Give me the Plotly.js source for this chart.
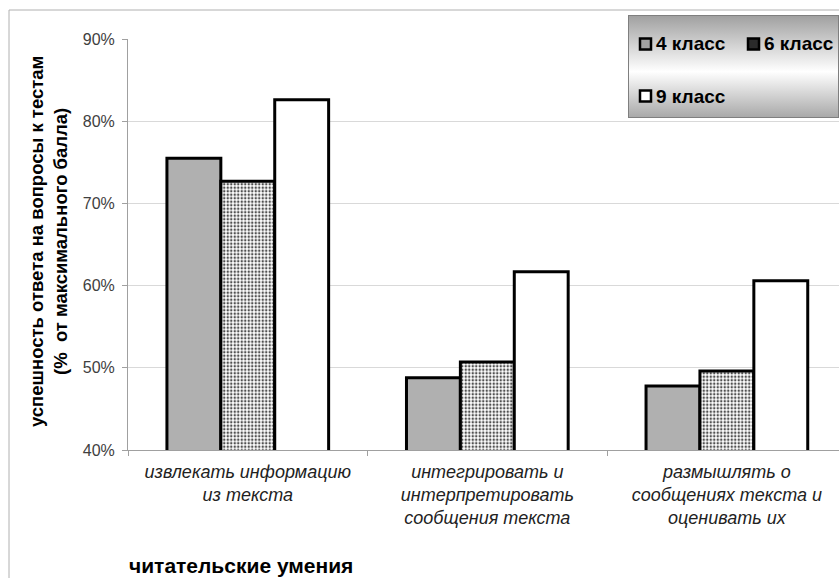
<!DOCTYPE html>
<html>
<head>
<meta charset="utf-8">
<script src="https://cdn.plot.ly/plotly-3.0.1.min.js"></script>
<style>html,body{margin:0;padding:0;background:#fff}#chart{width:839px;height:578px}</style>
</head>
<body>
<div id="chart"></div>
<script>
const categories = [
  "извлекать информацию<br>из текста",
  "интегрировать и<br>интерпретировать<br>сообщения текста",
  "размышлять о<br>сообщениях текста и<br>оценивать их"
];
const seriesNames = ["4 класс", "6 класс", "9 класс"];
const grade4 = [75.5, 48.8, 47.8];
const grade6 = [72.7, 50.7, 49.6];
const grade9 = [82.6, 61.7, 60.6];
const yTitle = "успешность ответа на вопросы к тестам<br>(%  от максимального балла)";
const xTitle = "читательские умения";

const L = 128, T = 39, W = 711, H = 411;
const px = x => (x - L) / W;
const py = y => (T + H - y) / H;

const lineStyle = {color: "#000", width: 3};
const fills = ["#b0b0b0", "#ffffff", "#ffffff"];
const swatchFills = ["#a0a0a0", "#2a2a2a", "#ffffff"];
const traces = [
  {type: "bar", name: seriesNames[0], x: categories, y: grade4,
   marker: {color: fills[0], line: lineStyle}},
  {type: "bar", name: seriesNames[1], x: categories, y: grade6,
   marker: {color: fills[1], line: lineStyle,
            pattern: {shape: ".", fgcolor: "#505050", bgcolor: "#ffffff", size: 3.5, solidity: 0.4}}},
  {type: "bar", name: seriesNames[2], x: categories, y: grade9,
   marker: {color: fills[2], line: lineStyle}}
];

const gradSvg = "<svg xmlns='http://www.w3.org/2000/svg' width='211' height='103' viewBox='0 0 211 103'>" +
  "<defs><linearGradient id='g' x1='0' y1='0' x2='0' y2='1'>" +
  "<stop offset='0' stop-color='#a0a0a0'/><stop offset='0.55' stop-color='#ffffff'/><stop offset='1' stop-color='#a8a8a8'/>" +
  "</linearGradient></defs><rect x='0.5' y='0.5' width='210' height='102' fill='url(#g)' stroke='#7f7f7f'/></svg>";
const gradUri = "data:image/svg+xml;charset=utf-8," + encodeURIComponent(gradSvg);

const legFont = {family: "Liberation Sans, Arial, sans-serif", size: 19, color: "#000", weight: "bold"};

// custom legend positions (pixels): [swatch left, row center y]
const legPos = [[640, 44], [748, 44], [640, 96]];
const legShapes = [];
const legAnns = [];
seriesNames.forEach((n, i) => {
  const [sx, sy] = legPos[i];
  legShapes.push({type: "rect", xref: "paper", yref: "paper",
    x0: px(sx), x1: px(sx + 11), y0: py(sy + 5.5), y1: py(sy - 5.5),
    fillcolor: swatchFills[i], line: {color: "#000", width: 2.5}, layer: "above"});
  legAnns.push({text: n, xref: "paper", yref: "paper", x: px(sx + 14), y: py(sy),
    xanchor: "left", yanchor: "middle", showarrow: false, font: legFont});
});

const layout = {
  width: 839, height: 578,
  margin: {l: L, t: T, r: 0, b: 578 - T - H},
  paper_bgcolor: "#fff", plot_bgcolor: "#fff",
  barmode: "group", bargap: 0.325, bargroupgap: 0,
  font: {family: "Liberation Sans, Arial, sans-serif", color: "#333"},
  showlegend: false,
  xaxis: {
    type: "category", range: [-0.5, 2.468], automargin: false, tickangle: 0,
    showline: true, linecolor: "#a0a0a0", linewidth: 1,
    ticks: "outside", tickson: "boundaries", ticklen: 5, tickcolor: "#a0a0a0",
    ticklabelstandoff: 5,
    tickfont: {family: "Liberation Sans, Arial, sans-serif", size: 18, style: "italic", color: "#222"},
    showgrid: false
  },
  yaxis: {
    range: [40, 90], dtick: 10, ticksuffix: "%", automargin: false,
    showline: true, linecolor: "#a0a0a0", linewidth: 1,
    ticks: "outside", ticklen: 5, tickcolor: "#a0a0a0",
    ticklabelstandoff: 4,
    gridcolor: "#d9d9d9", gridwidth: 1,
    tickfont: {size: 16, color: "#404040"}
  },
  images: [{
    source: gradUri, xref: "paper", yref: "paper",
    x: px(628), y: py(15), sizex: 211 / W, sizey: 103 / H,
    xanchor: "left", yanchor: "top", sizing: "stretch", layer: "above"
  }],
  shapes: [
    {type: "line", xref: "paper", yref: "paper", x0: px(9), x1: px(9), y0: py(10), y1: py(578),
     line: {color: "#b0b0b0", width: 1}},
    {type: "line", xref: "paper", yref: "paper", x0: px(9), x1: px(839), y0: py(10), y1: py(10),
     line: {color: "#b0b0b0", width: 1}}
  ].concat(legShapes),
  annotations: [
    {text: yTitle, xref: "paper", yref: "paper", x: px(49), y: py(242), textangle: -90,
     showarrow: false, xanchor: "center", yanchor: "middle",
     font: {family: "Liberation Sans, Arial, sans-serif", size: 18.5, color: "#000", weight: "bold"}},
    {text: xTitle, xref: "paper", yref: "paper", x: px(127), y: py(565),
     showarrow: false, xanchor: "left", yanchor: "middle",
     font: {family: "Liberation Sans, Arial, sans-serif", size: 21, color: "#000", weight: "bold"}}
  ].concat(legAnns)
};

Plotly.newPlot("chart", traces, layout, {staticPlot: true, displayModeBar: false});
</script>
</body>
</html>
